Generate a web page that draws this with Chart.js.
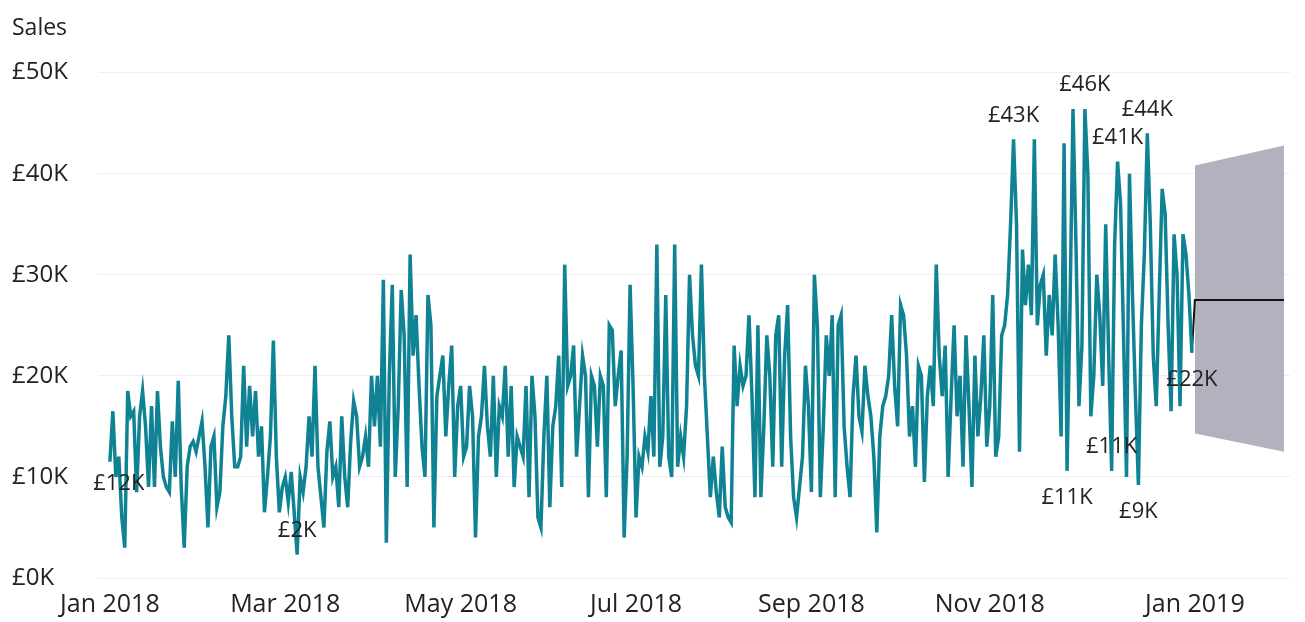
<!DOCTYPE html>
<html>
<head>
<meta charset="utf-8">
<script src="https://cdn.jsdelivr.net/npm/chart.js@4.4.0/dist/chart.umd.min.js"></script>
<style>
html,body{margin:0;padding:0;background:#fff}
#wrap{width:1305px;height:622px}
</style>
</head>
<body>
<div id="wrap"><canvas id="sales"></canvas></div>
<script>
// daily sales 2018, in £K
const jan = [11.5,16.5,10,12,6,3,18.5,16,16.5,8.5,16,18.5,15,9,17,9,18.5,13,10,9,8.5,15.5,10,19.5,9,3,11,13,13.5,12.5,14]
const feb = [15.5,11,5,13,14,7,8.5,15,18,24,16,11,11,12,21,13,19,14,18.5,12,15,6.5,10,14,23.5,12,6.5,9]
const mar = [10,7.5,10.5,6.5,2.3,10,8.5,11,16,12,21,11,8,5,12.5,15.5,10,11,7,16,10,7,13.5,17.5,16,11,12,14,11,20,15]
const apr = [20,13,29.5,3.5,20,29,10,17,28.5,24,9,32,22,26,19,13,10,28,25,5,18,20,22,14,19,23,10,17,19,12]
const may = [13,19,16,4,14,16,21,15,12,20,10,17,16,21,12,19,9,14,13,12,19,8,20,16,6,5,14,20,7,15,17]
const jun = [22,9,31,19,20,23,12,17,22,20,8,20,19,13,20,19,8,25,24.5,17,20,22.5,4,12,29,19,6,12,11,14]
const jul = [12.5,18,12,33,11,14,28,12,10,33,11,14,12,17,30,24,21,20,31,20,14,8,12,8.5,6,13,7,6,5.5,23,17]
const aug = [21,19,20,26,18,8,25,8,15,24,20,11,24,26,11,22,27,14,8,6,9,12,21,17,8.5,30,25,8,15,24,20]
const sep = [26,8,25,26,15,11,8,18,22,16,14.5,21,18,16,12,4.5,14,17,18,20,26,19,15,27,26,22,14,17,11,21]
const oct = [20,9.5,18,21,17,31,22,18,23,10,18,25,16,20,11,24,17,9,22,14,18,24,13,17,28,12,14,24,25,28,35]
const nov = [43.4,35,12.5,32.5,27,31,26,43.4,25,29,30,22,28,24,32,25,14,43,10.6,27,46.4,33,17,23,46.4,40,16,20,30,26]
const dec = [19,35,22,10.6,33,41.2,37,24,10,40,28,18,9.2,25,32,44,35,22,17,28,38.5,36,25,16.5,34,30,17,34,32,28,22.3]
const sales = [].concat(jan,feb,mar,apr,may,jun,jul,aug,sep,oct,nov,dec)

// forecast for Jan 2019
const forecastDays = [364,365,395]
const forecastValues = [22.3,27.5,27.5]
const bandDays = [365,395]
const bandUpper = [40.8,42.8]
const bandLower = [14.3,12.5]

// x axis ticks (day index from 1 Jan 2018)
const tickDays = [0,59,118,177,236,296,365]
const tickLabels = ['Jan 2018','Mar 2018','May 2018','Jul 2018','Sep 2018','Nov 2018','Jan 2019']

// points that carry a value label
const labelDays = [3,63,304,322,328,337,339,346,349,364]
const labelSide = ['below','above','above','below','above','above','above','below','above','below']

const font = "'Segoe UI','Open Sans',sans-serif"
const textColor = '#222'

const pts = (xs,ys) => xs.map((x,i)=>({x:x,y:ys[i]}))

const dataLabels = {
    id:'dataLabels',
    afterDatasetsDraw(chart){
        const ctx = chart.ctx
        const meta = chart.getDatasetMeta(0)
        ctx.save()
        ctx.font = '22px ' + font
        ctx.fillStyle = textColor
        ctx.textAlign = 'center'
        ctx.textBaseline = 'middle'
        labelDays.forEach((d,i)=>{
            const p = meta.data[d]
            const off = labelSide[i]==='above' ? -24 : 27
            ctx.fillText('£'+Math.round(sales[d])+'K', p.x, p.y+off)
        })
        ctx.restore()
    }
}

const salesChart = document.getElementById('sales').getContext('2d')
const chart = new Chart(salesChart,{
    type:'line',
    data:{
        datasets:[{
            data:pts(sales.map((v,i)=>i), sales),
            borderColor:'#0f8294',
            borderWidth:3.5,
            pointRadius:0,
            order:0
        },{
            data:pts(bandDays,bandUpper),
            borderWidth:0,
            pointRadius:0,
            backgroundColor:'#b2b2be',
            fill:'+1',
            order:3
        },{
            data:pts(bandDays,bandLower),
            borderWidth:0,
            pointRadius:0,
            fill:false,
            order:3
        },{
            data:pts(forecastDays,forecastValues),
            borderColor:'#111',
            borderWidth:2,
            pointRadius:0,
            order:1
        }]
    },
    options:{
        responsive:true,
        maintainAspectRatio:false,
        animation:false,
        layout:{padding:{left:12,right:15,top:15,bottom:0}},
        scales:{
            x:{
                type:'linear',
                min:-4,
                max:397,
                grid:{display:false,drawTicks:false},
                border:{display:false},
                afterBuildTicks:(s)=>{ s.ticks = tickDays.map(v=>({value:v})) },
                afterFit:(s)=>{ s.height = 44 },
                ticks:{
                    autoSkip:false,
                    maxRotation:0,
                    padding:12,
                    color:textColor,
                    font:{family:font,size:25},
                    callback:(v)=>tickLabels[tickDays.indexOf(v)]
                }
            },
            y:{
                min:0,
                max:50,
                border:{display:false},
                grid:{color:'#eceef3',drawTicks:false},
                afterFit:(s)=>{ s.width = 86 },
                ticks:{
                    stepSize:10,
                    crossAlign:'far',
                    padding:0,
                    color:textColor,
                    font:{family:font,size:24},
                    callback:(v)=>'£'+v+'K'
                }
            }
        },
        plugins:{
            legend:{display:false},
            tooltip:{enabled:false},
            title:{
                display:true,
                text:'Sales',
                align:'start',
                color:textColor,
                font:{family:font,size:23,weight:'normal'},
                padding:{top:0,bottom:30}
            }
        }
    },
    plugins:[dataLabels]
})
</script>
</body>
</html>
